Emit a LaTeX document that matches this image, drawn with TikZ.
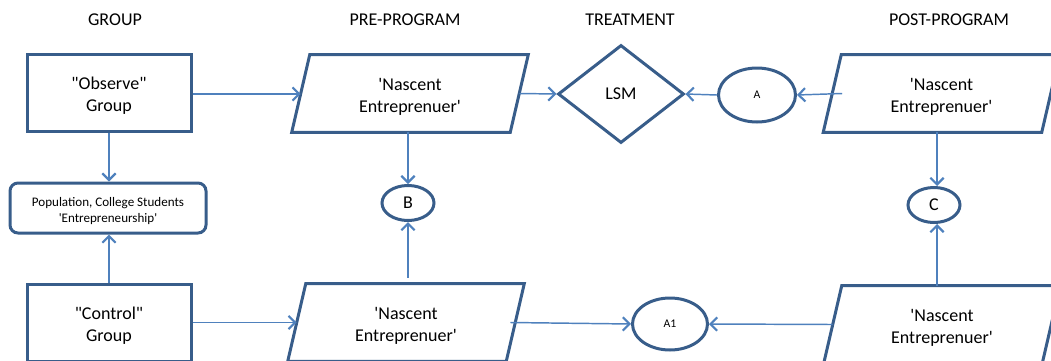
\documentclass[tikz,border=0pt]{standalone}
\usepackage{fontspec}
\newfontfamily\calib{Carlito}
\usetikzlibrary{shapes.geometric,arrows.meta,calc}
\definecolor{shapeblue}{HTML}{385D8A}
\definecolor{arrowblue}{HTML}{4F81BD}
\tikzset{
  every node/.style={font=\calib},
  bigtxt/.style={font=\calib\fontsize{13.5}{16.5}\selectfont},
  smalltxt/.style={font=\calib\fontsize{8.8}{10}\selectfont},
  hdr/.style={bigtxt, anchor=center},
  txt/.style={label={[bigtxt, align=center, inner sep=0pt, yshift=-2.2pt]center:{#1}}},
  poptxt/.style={label={[font=\calib\fontsize{9.8}{11.4}\selectfont, align=center, inner sep=0pt, yshift=-2.2pt]center:{#1}}},
  boxx/.style={draw=shapeblue, line width=2.25pt, rectangle, inner sep=0pt},
  popbox/.style={draw=shapeblue, line width=2.25pt, rectangle, rounded corners=6pt, inner sep=0pt},
  parabody/.style={rectangle, inner sep=0pt, minimum width=0.75*218pt, minimum height=0.75*77pt},
  paraline/.style={draw=shapeblue, line width=2.25pt, line join=miter},
  dia/.style={diamond, draw=shapeblue, line width=2.25pt, inner sep=0pt, aspect=1.29, minimum width=0.75*126pt, minimum height=0.75*98pt, bigtxt},
  ell/.style={ellipse, draw=shapeblue, line width=2.25pt, inner sep=0pt},
  conn/.style={draw=arrowblue, line width=1.1pt, -{Straight Barb[length=5pt,width=10pt,line width=1.6pt]}},
}
\newcommand\paraoutline[1]{%
  \draw[paraline] ([xshift=0.75*9pt]#1.north west) -- ([xshift=0.75*9pt]#1.north east)
    -- ([xshift=-0.75*9pt]#1.south east) -- ([xshift=-0.75*9pt]#1.south west) -- cycle;}
\begin{document}
\begin{tikzpicture}[x=0.75pt,y=-0.75pt]
\useasboundingbox (0,0) rectangle (1051,361);
% headers
\node[hdr] (hgroup) at (115,20) {GROUP};
\node[hdr] (hpre) at (405,20) {PRE-PROGRAM};
\node[hdr] (htreat) at (630,20) {TREATMENT};
\node[hdr] (hpost) at (949,20) {POST-PROGRAM};
% group boxes
\node[boxx, minimum width=0.75*164pt, minimum height=0.75*77pt, txt={"Observe"\\Group}] (observe) at (109,92.5) {};
\node[popbox, minimum width=0.75*196pt, minimum height=0.75*50pt, poptxt={Population, College Students\\'Entrepreneurship'}] (pop) at (108,208) {};
\node[boxx, minimum width=0.75*164pt, minimum height=0.75*77pt, txt={"Control"\\Group}] (control) at (109,322.5) {};
% parallelograms
\node[parabody, txt={'Nascent\\Entreprenuer'}] (paraTL) at (410,93.5) {};
\paraoutline{paraTL}
\node[parabody, txt={'Nascent\\Entreprenuer'}] (paraTR) at (941.5,93.5) {};
\paraoutline{paraTR}
\node[parabody, txt={'Nascent\\Entreprenuer'}] (paraBL) at (406,322.5) {};
\paraoutline{paraBL}
\node[parabody, txt={'Nascent\\Entreprenuer'}] (paraBR) at (942,324.5) {};
\paraoutline{paraBR}
% treatment
\node[dia] (lsm) at (621,94) {LSM};
% ellipses
\node[ell, smalltxt, minimum width=0.75*77pt, minimum height=0.75*54pt] (A) at (757,95) {A};
\node[ell, bigtxt, minimum width=0.75*52pt, minimum height=0.75*35pt] (B) at (408,203) {B};
\node[ell, bigtxt, minimum width=0.75*52pt, minimum height=0.75*35pt] (C) at (934,205) {C};
\node[ell, smalltxt, minimum width=0.75*75pt, minimum height=0.75*52pt] (A1) at (670,324) {A1};
% connectors
\draw[conn] ([yshift=-0.75*1.5pt]observe.east) -- ([yshift=-0.75*1.5pt]observe.east -| paraTL.west);
\draw[conn] (paraTL.east) -- (lsm.west);
\draw[conn] ([xshift=0.75*10pt]paraTR.west) -- (A.east);
\draw[conn] (A.west) -- (lsm.east);
\draw[conn] (observe.south) -- (observe.south |- pop.north);
\draw[conn] (control.north) -- (control.north |- pop.south);
\draw[conn] (B.north |- paraTL.south) -- (B.north);
\draw[conn] ([yshift=0.75*6pt]B.south |- paraBL.north) -- (B.south);
\draw[conn] ([xshift=0.75*3pt]C.north |- paraTR.south) -- ([xshift=0.75*3pt]C.north);
\draw[conn] ([xshift=0.75*3pt]C.south |- paraBR.north) -- ([xshift=0.75*3pt]C.south);
\draw[conn] (control.east) -- (control.east -| paraBL.west);
\draw[conn] ([xshift=-0.75*5pt]paraBL.east) -- (A1.west);
\draw[conn] (paraBR.west) -- (A1.east);
\end{tikzpicture}
\end{document}
